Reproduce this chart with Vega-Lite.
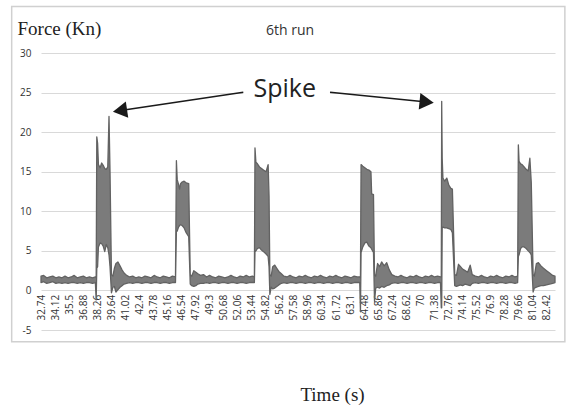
{
  "$schema": "https://vega.github.io/schema/vega-lite/v6.json",
  "width": 514,
  "height": 277,
  "autosize": "none",
  "padding": {"left": 41, "top": 53, "right": 12, "bottom": 75},
  "background": "white",
  "title": {"text": "6th run", "font": "Open Sans", "fontSize": 14, "fontWeight": "normal", "color": "#333333", "anchor": "middle", "baseline": "alphabetic", "offset": -43, "dx": -8},
  "config": {"view": {"stroke": null}, "font": "Open Sans"},
  "datasets": {
    "signal": [
      {"t":32.74,"lo":1.0,"hi":1.8},{"t":33.0,"lo":1.1,"hi":1.9},{"t":33.3,"lo":0.9,"hi":1.6},{"t":33.6,"lo":1.0,"hi":1.7},{"t":33.9,"lo":1.1,"hi":1.8},{"t":34.2,"lo":0.9,"hi":1.6},{"t":34.5,"lo":1.0,"hi":1.7},{"t":34.8,"lo":0.9,"hi":1.6},{"t":35.1,"lo":1.0,"hi":1.8},{"t":35.4,"lo":0.9,"hi":1.6},{"t":35.7,"lo":1.0,"hi":1.7},{"t":36.0,"lo":1.0,"hi":1.9},{"t":36.3,"lo":0.9,"hi":1.6},{"t":36.6,"lo":1.0,"hi":1.7},{"t":36.9,"lo":0.9,"hi":1.8},{"t":37.2,"lo":1.0,"hi":1.6},{"t":37.5,"lo":1.0,"hi":1.7},{"t":37.8,"lo":0.9,"hi":1.6},{"t":38.08,"lo":1.0,"hi":1.7},
      {"t":38.16,"lo":-1.2,"hi":1.6},{"t":38.22,"lo":2.8,"hi":19.4},{"t":38.30,"lo":3.0,"hi":18.6},{"t":38.38,"lo":5.5,"hi":15.9},{"t":38.55,"lo":6.0,"hi":15.5},{"t":38.70,"lo":5.9,"hi":16.1},{"t":38.85,"lo":5.6,"hi":15.8},{"t":39.00,"lo":4.9,"hi":15.4},{"t":39.15,"lo":5.8,"hi":15.3},{"t":39.30,"lo":5.4,"hi":15.6},{"t":39.42,"lo":4.5,"hi":22.0},{"t":39.52,"lo":3.0,"hi":15.0},{"t":39.66,"lo":-0.3,"hi":2.0},{"t":39.80,"lo":0.4,"hi":1.8},{"t":39.95,"lo":0.5,"hi":2.8},{"t":40.10,"lo":-0.2,"hi":3.4},{"t":40.30,"lo":0.1,"hi":3.6},{"t":40.50,"lo":0.4,"hi":3.1},{"t":40.70,"lo":0.6,"hi":2.6},{"t":40.90,"lo":0.8,"hi":2.2},{"t":41.15,"lo":0.9,"hi":1.9},
      {"t":41.45,"lo":1.0,"hi":1.7},{"t":41.75,"lo":0.9,"hi":1.8},{"t":42.05,"lo":1.0,"hi":1.6},{"t":42.35,"lo":1.0,"hi":1.7},{"t":42.65,"lo":0.9,"hi":1.6},{"t":42.95,"lo":1.0,"hi":1.8},{"t":43.25,"lo":1.0,"hi":1.7},{"t":43.55,"lo":0.9,"hi":1.6},{"t":43.85,"lo":1.0,"hi":1.9},{"t":44.15,"lo":1.0,"hi":1.7},{"t":44.45,"lo":0.9,"hi":1.6},{"t":44.75,"lo":1.0,"hi":1.8},{"t":45.05,"lo":1.0,"hi":1.7},{"t":45.35,"lo":0.9,"hi":1.6},{"t":45.65,"lo":1.0,"hi":1.8},{"t":45.95,"lo":1.0,"hi":1.7},
      {"t":46.04,"lo":7.4,"hi":16.4},{"t":46.12,"lo":7.5,"hi":14.0},{"t":46.25,"lo":8.0,"hi":13.4},{"t":46.35,"lo":8.2,"hi":12.8},{"t":46.45,"lo":8.3,"hi":13.5},{"t":46.60,"lo":8.2,"hi":13.7},{"t":46.80,"lo":7.9,"hi":13.8},{"t":47.00,"lo":7.3,"hi":13.6},{"t":47.25,"lo":6.8,"hi":13.5},{"t":47.40,"lo":0.8,"hi":2.0},{"t":47.55,"lo":0.6,"hi":1.8},{"t":47.75,"lo":0.5,"hi":2.5},{"t":47.95,"lo":0.6,"hi":2.3},{"t":48.15,"lo":0.8,"hi":2.1},{"t":48.40,"lo":0.9,"hi":1.9},{"t":48.70,"lo":0.9,"hi":2.0},
      {"t":49.0,"lo":1.0,"hi":1.7},{"t":49.3,"lo":0.9,"hi":1.9},{"t":49.6,"lo":1.0,"hi":1.7},{"t":49.9,"lo":1.0,"hi":1.6},{"t":50.2,"lo":0.9,"hi":1.8},{"t":50.5,"lo":1.0,"hi":1.7},{"t":50.8,"lo":1.0,"hi":1.6},{"t":51.1,"lo":0.9,"hi":1.7},{"t":51.4,"lo":1.0,"hi":1.9},{"t":51.7,"lo":1.0,"hi":1.7},{"t":52.0,"lo":0.9,"hi":1.6},{"t":52.3,"lo":1.0,"hi":1.8},{"t":52.6,"lo":1.0,"hi":1.7},{"t":52.9,"lo":0.9,"hi":1.9},{"t":53.2,"lo":1.0,"hi":1.7},{"t":53.5,"lo":1.0,"hi":1.8},{"t":53.7,"lo":1.0,"hi":1.7},
      {"t":53.76,"lo":4.9,"hi":18.0},{"t":53.85,"lo":5.0,"hi":16.2},{"t":54.00,"lo":5.3,"hi":16.0},{"t":54.20,"lo":5.4,"hi":15.6},{"t":54.40,"lo":5.1,"hi":15.4},{"t":54.60,"lo":4.9,"hi":15.2},{"t":54.85,"lo":4.6,"hi":15.0},{"t":55.05,"lo":4.3,"hi":15.9},{"t":55.14,"lo":3.0,"hi":12.0},{"t":55.22,"lo":-0.5,"hi":2.0},{"t":55.35,"lo":0.4,"hi":1.8},{"t":55.50,"lo":0.2,"hi":3.0},{"t":55.70,"lo":0.3,"hi":3.2},{"t":55.90,"lo":0.5,"hi":2.8},{"t":56.10,"lo":0.7,"hi":2.4},{"t":56.35,"lo":0.9,"hi":2.1},
      {"t":56.6,"lo":1.0,"hi":1.8},{"t":56.9,"lo":0.9,"hi":1.7},{"t":57.2,"lo":1.0,"hi":1.9},{"t":57.5,"lo":1.0,"hi":1.7},{"t":57.8,"lo":0.9,"hi":1.6},{"t":58.1,"lo":1.0,"hi":1.8},{"t":58.4,"lo":1.0,"hi":1.7},{"t":58.7,"lo":0.9,"hi":1.9},{"t":59.0,"lo":1.0,"hi":1.7},{"t":59.3,"lo":1.0,"hi":1.6},{"t":59.6,"lo":0.9,"hi":1.8},{"t":59.9,"lo":1.0,"hi":1.7},{"t":60.2,"lo":1.0,"hi":1.9},{"t":60.5,"lo":0.9,"hi":1.7},{"t":60.8,"lo":1.0,"hi":1.6},{"t":61.1,"lo":1.0,"hi":1.8},{"t":61.4,"lo":0.9,"hi":1.7},{"t":61.7,"lo":1.0,"hi":1.9},{"t":62.0,"lo":1.0,"hi":1.7},{"t":62.3,"lo":0.9,"hi":1.6},{"t":62.6,"lo":1.0,"hi":1.8},{"t":62.9,"lo":1.0,"hi":1.7},{"t":63.2,"lo":0.9,"hi":1.6},{"t":63.5,"lo":1.0,"hi":1.8},{"t":63.8,"lo":1.0,"hi":1.7},{"t":64.05,"lo":1.0,"hi":1.7},
      {"t":64.12,"lo":-2.7,"hi":1.6},{"t":64.18,"lo":4.8,"hi":15.9},{"t":64.35,"lo":5.5,"hi":15.7},{"t":64.55,"lo":6.0,"hi":15.5},{"t":64.75,"lo":6.1,"hi":15.3},{"t":64.95,"lo":5.6,"hi":15.2},{"t":65.15,"lo":5.4,"hi":15.0},{"t":65.22,"lo":5.2,"hi":12.2},{"t":65.40,"lo":4.8,"hi":12.1},{"t":65.50,"lo":-1.4,"hi":2.0},{"t":65.62,"lo":0.3,"hi":1.8},{"t":65.80,"lo":0.4,"hi":3.4},{"t":66.00,"lo":0.3,"hi":3.0},{"t":66.20,"lo":0.5,"hi":3.6},{"t":66.45,"lo":0.4,"hi":3.1},{"t":66.70,"lo":0.6,"hi":3.5},{"t":66.95,"lo":0.7,"hi":2.6},{"t":67.20,"lo":0.9,"hi":2.0},
      {"t":67.5,"lo":1.0,"hi":1.8},{"t":67.8,"lo":0.9,"hi":1.7},{"t":68.1,"lo":1.0,"hi":1.9},{"t":68.4,"lo":1.0,"hi":1.7},{"t":68.7,"lo":0.9,"hi":1.6},{"t":69.0,"lo":1.0,"hi":1.8},{"t":69.3,"lo":1.0,"hi":1.7},{"t":69.6,"lo":0.9,"hi":1.9},{"t":69.9,"lo":1.0,"hi":1.7},{"t":70.2,"lo":1.0,"hi":1.6},{"t":70.5,"lo":0.9,"hi":1.8},{"t":70.8,"lo":1.0,"hi":1.7},{"t":71.1,"lo":1.0,"hi":1.9},{"t":71.4,"lo":0.9,"hi":1.7},{"t":71.7,"lo":1.0,"hi":1.8},{"t":71.98,"lo":1.0,"hi":1.7},
      {"t":72.06,"lo":-2.2,"hi":1.7},{"t":72.10,"lo":-2.2,"hi":23.9},{"t":72.15,"lo":8.0,"hi":16.7},{"t":72.22,"lo":8.0,"hi":14.2},{"t":72.40,"lo":7.9,"hi":13.8},{"t":72.60,"lo":7.9,"hi":14.2},{"t":72.80,"lo":7.8,"hi":13.3},{"t":73.00,"lo":7.7,"hi":12.9},{"t":73.15,"lo":7.3,"hi":12.8},{"t":73.38,"lo":0.6,"hi":2.0},{"t":73.55,"lo":0.5,"hi":1.9},{"t":73.75,"lo":0.6,"hi":3.3},{"t":73.95,"lo":0.7,"hi":3.0},{"t":74.15,"lo":0.6,"hi":2.7},{"t":74.40,"lo":0.8,"hi":2.5},{"t":74.65,"lo":0.7,"hi":2.3},{"t":74.90,"lo":0.6,"hi":3.2},{"t":75.10,"lo":0.9,"hi":2.0},
      {"t":75.4,"lo":1.0,"hi":1.8},{"t":75.7,"lo":0.9,"hi":1.7},{"t":76.0,"lo":1.0,"hi":1.9},{"t":76.3,"lo":1.0,"hi":1.7},{"t":76.6,"lo":0.9,"hi":1.6},{"t":76.9,"lo":1.0,"hi":1.8},{"t":77.2,"lo":1.0,"hi":1.7},{"t":77.5,"lo":0.9,"hi":1.9},{"t":77.8,"lo":1.0,"hi":1.7},{"t":78.1,"lo":1.0,"hi":1.6},{"t":78.4,"lo":0.9,"hi":1.8},{"t":78.7,"lo":1.0,"hi":1.7},{"t":79.0,"lo":1.0,"hi":1.9},{"t":79.3,"lo":0.9,"hi":1.7},{"t":79.56,"lo":1.0,"hi":1.8},
      {"t":79.63,"lo":4.3,"hi":18.4},{"t":79.70,"lo":4.5,"hi":16.3},{"t":79.85,"lo":5.3,"hi":16.0},{"t":80.00,"lo":5.5,"hi":15.9},{"t":80.20,"lo":5.5,"hi":15.6},{"t":80.40,"lo":5.3,"hi":15.3},{"t":80.60,"lo":5.0,"hi":15.1},{"t":80.76,"lo":4.8,"hi":16.7},{"t":80.90,"lo":4.5,"hi":13.6},{"t":81.08,"lo":-0.2,"hi":2.0},{"t":81.20,"lo":0.3,"hi":1.8},{"t":81.40,"lo":0.4,"hi":3.4},{"t":81.60,"lo":0.5,"hi":3.5},{"t":81.85,"lo":0.6,"hi":3.1},{"t":82.10,"lo":0.6,"hi":2.8},{"t":82.40,"lo":0.7,"hi":2.5},{"t":82.70,"lo":0.8,"hi":2.2},{"t":83.00,"lo":0.9,"hi":1.9},{"t":83.23,"lo":1.0,"hi":1.8}
    ],
    "arrows": [
      {"t1":52.61,"y1":25.04,"t2":40.73,"y2":22.76},
      {"t1":61.13,"y1":25.04,"t2":70.39,"y2":23.84}
    ]
  },
  "layer": [
    {
      "data": {"name": "signal"},
      "mark": {"type": "area", "fill": "#7b7b7b", "stroke": "#626262", "strokeWidth": 1.3, "strokeJoin": "round"},
      "encoding": {
        "x": {
          "field": "t", "type": "quantitative", "title": "Time (s)",
          "scale": {"domain": [32.74, 83.23], "nice": false, "zero": false},
          "axis": {
            "values": [32.74,34.12,35.5,36.88,38.26,39.64,41.02,42.4,43.78,45.16,46.54,47.92,49.3,50.68,52.06,53.44,54.82,56.2,57.58,58.96,60.34,61.72,63.1,64.48,65.86,67.24,68.62,70,71.38,72.76,74.14,75.52,76.9,78.28,79.66,81.04,82.42],
            "tickCount": 100,
            "labelExpr": "datum.value + ''",
            "labelAngle": -90, "labelFont": "Open Sans", "labelFontSize": 10, "labelColor": "#333333",
            "labelPadding": 4, "ticks": false, "tickSize": 0, "domain": false, "grid": false,
            "labelOverlap": false, "labelFlush": false, "labelBound": false,
            "offset": -39.6,
            "titleFont": "Liberation Serif", "titleFontSize": 19, "titleFontWeight": "normal", "titleColor": "#222222",
            "titleX": 291, "titleY": 109.6, "titleAlign": "center", "titleBaseline": "alphabetic"
          }
        },
        "y": {
          "field": "lo", "type": "quantitative", "title": "Force (Kn)",
          "scale": {"domain": [-5, 30], "nice": false, "zero": false},
          "axis": {
            "values": [-5,0,5,10,15,20,25,30],
            "tickCount": 20,
            "labelExpr": "datum.value + ''",
            "labelFont": "Open Sans", "labelFontSize": 10, "labelColor": "#333333", "labelPadding": 10,
            "labelOverlap": false, "labelFlush": false, "labelBound": false,
            "ticks": false, "tickSize": 0, "domain": false, "grid": true, "gridColor": "#d9d9d9", "gridWidth": 1,
            "titleAngle": 0, "titleX": -24, "titleY": -19, "titleAlign": "left", "titleBaseline": "alphabetic",
            "titleFont": "Liberation Serif", "titleFontSize": 19, "titleFontWeight": "normal", "titleColor": "#222222"
          }
        },
        "y2": {"field": "hi"}
      }
    },
    {
      "data": {"values": [{}]},
      "mark": {"type": "rect", "filled": false, "stroke": "#d0d0d0", "strokeWidth": 1.5, "clip": false},
      "encoding": {
        "x": {"datum": 29.86, "type": "quantitative"},
        "x2": {"datum": 84.2},
        "y": {"datum": 35.87, "type": "quantitative"},
        "y2": {"datum": -6.49}
      }
    },
    {
      "data": {"values": [{}]},
      "mark": {"type": "rect", "fill": "white", "stroke": null},
      "encoding": {
        "x": {"datum": 52.61, "type": "quantitative"},
        "x2": {"datum": 61.13},
        "y": {"datum": 23.9, "type": "quantitative"},
        "y2": {"datum": 27.3}
      }
    },
    {
      "data": {"name": "arrows"},
      "mark": {"type": "rule", "color": "#1a1a1a", "strokeWidth": 1.6},
      "encoding": {
        "x": {"field": "t1", "type": "quantitative"},
        "y": {"field": "y1", "type": "quantitative"},
        "x2": {"field": "t2"},
        "y2": {"field": "y2"}
      }
    },
    {
      "data": {"values": [{"t": 40.73, "y": 22.76}]},
      "mark": {"type": "point", "shape": "triangle", "angle": 261.5, "size": 270, "filled": true, "color": "#1a1a1a", "opacity": 1},
      "encoding": {
        "x": {"field": "t", "type": "quantitative"},
        "y": {"field": "y", "type": "quantitative"}
      }
    },
    {
      "data": {"values": [{"t": 70.39, "y": 23.84}]},
      "mark": {"type": "point", "shape": "triangle", "angle": 95.7, "size": 270, "filled": true, "color": "#1a1a1a", "opacity": 1},
      "encoding": {
        "x": {"field": "t", "type": "quantitative"},
        "y": {"field": "y", "type": "quantitative"}
      }
    },
    {
      "data": {"values": [{"t": 56.68, "y": 24.5, "label": "Spike"}]},
      "mark": {"type": "text", "font": "Open Sans", "fontSize": 25, "color": "#222222", "align": "center", "baseline": "alphabetic"},
      "encoding": {
        "x": {"field": "t", "type": "quantitative"},
        "y": {"field": "y", "type": "quantitative"},
        "text": {"field": "label"}
      }
    }
  ]
}
